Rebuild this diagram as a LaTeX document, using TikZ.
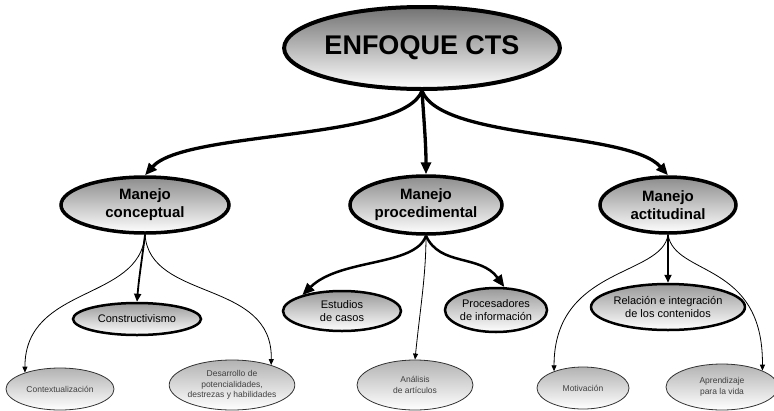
\documentclass[tikz,border=0pt]{standalone}
\usepackage{fontspec}
\setmainfont{Liberation Sans}
\usetikzlibrary{arrows.meta, shapes.geometric}

\begin{document}
\begin{tikzpicture}[
        x=1pt, y=-1pt,
        top/.style={
            ellipse, draw=black, line width=4pt, top color=black!55,
            bottom color=white, inner sep=0pt, minimum width=268pt,
            minimum height=82pt, font=\fontsize{27}{30}\selectfont\bfseries
        },
        main/.style={
            ellipse, draw=black, line width=3.5pt, top color=black!45,
            bottom color=white, inner sep=0pt, align=center,
            font=\fontsize{15}{18}\selectfont\bfseries
        },
        sub/.style={
            ellipse, draw=black, line width=2.5pt, top color=black!40,
            bottom color=white, inner sep=0pt, align=center,
            font=\fontsize{11}{13.5}\selectfont
        },
        leaf/.style={
            ellipse, draw=black!80, line width=0.8pt, top color=black!30,
            bottom color=white, inner sep=0pt, align=center, text=black!75,
            font=\fontsize{8.5}{10.5}\selectfont
        },
        arr/.style={-{Triangle[length=12pt, width=10pt]}, line width=3.3pt},
        midarr/.style={-{Triangle[length=8pt, width=7pt]}, line width=1.8pt},
        thinarr/.style={-{Triangle[length=6pt, width=5pt]}, line width=0.8pt}
    ]
    \useasboundingbox (0,0) rectangle (774,410);

    % === Root ===
    \node[top] (enf) at (422,48) {ENFOQUE CTS};

    % === Manejo ===
    \node[main, minimum width=168pt, minimum height=56pt] (conc) at (145,205) {Manejo\\conceptual};
    \node[main, minimum width=152pt, minimum height=58pt] (proc) at (426,205) {Manejo\\procedimental};
    \node[main, minimum width=136pt, minimum height=56pt] (act) at (668,205) {Manejo\\actitudinal};

    % === Second level ===
    \node[sub, minimum width=128pt, minimum height=32pt] (cons) at (137,319) {Constructivismo};
    \node[sub, minimum width=118pt, minimum height=40pt] (est) at (342,311) {Estudios\\de casos};
    \node[sub, minimum width=94pt, minimum height=44pt] (pro) at (496,310) {Procesadores\\de información};
    \node[sub, minimum width=136pt, minimum height=46pt] (rel) at (668,307) {Relación e integración\\de los contenidos};

    % === Leaves ===
    \node[leaf, minimum width=108pt, minimum height=42pt] (ctx) at (60,389) {Contextualización};
    \node[leaf, minimum width=120pt, minimum height=50pt] (des) at (232,385) {Desarrollo de\\potencialidades,\\destrezas y habilidades};
    \node[leaf, minimum width=116pt, minimum height=50pt] (ana) at (415,385) {Análisis\\de artículos};
    \node[leaf, minimum width=92pt, minimum height=42pt] (mot) at (583,388) {Motivación};
    \node[leaf, minimum width=112pt, minimum height=46pt] (apr) at (722,387) {Aprendizaje\\para la vida};

    % === Root arrows ===
    \draw[arr] (enf.south) .. controls +(-20,50) and +(40,-45) .. (conc.north);
    \draw[arr] (enf.south) .. controls +(2,30) and +(0,-30) .. (proc.north);
    \draw[arr] (enf.south) .. controls +(20,50) and +(-40,-45) .. (act.north);

    % === Conceptual ===
    \draw[midarr] (conc.south) .. controls +(-3,25) and +(2,-25) .. (cons.north);
    \draw[thinarr] (conc.south) .. controls +(-5,67) and +(0,-88) .. (ctx.155);
    \draw[thinarr] (conc.south) .. controls +(5,67) and +(2,-86) .. (des.27);

    % === Procedimental ===
    \draw[arr, line width=2.5pt] (proc.south) .. controls +(-11,31) and +(38,-37) .. (est.158);
    \draw[thinarr] (proc.south) .. controls +(0,40) and +(5,-50) .. (ana.north);
    \draw[arr, line width=2.5pt] (proc.south) .. controls +(14,31) and +(-24,-33) .. (pro.70);

    % === Actitudinal ===
    \draw[midarr] (act.south) -- (rel.north);
    \draw[thinarr] (act.south) .. controls +(-6,42) and +(0,-105) .. (mot.150);
    \draw[thinarr] (act.south) .. controls +(7,42) and +(1,-110) .. (apr.22);

\end{tikzpicture}
\end{document}
